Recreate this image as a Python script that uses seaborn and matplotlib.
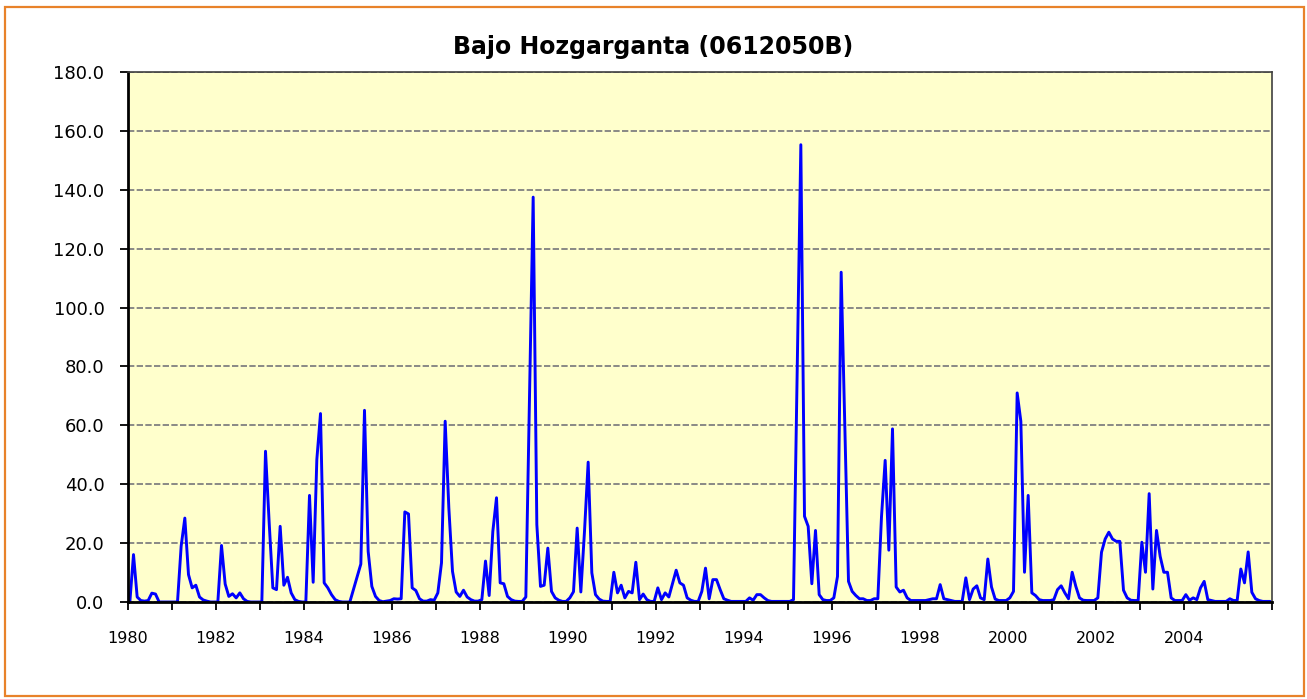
import numpy as np
import pandas as pd
import matplotlib
matplotlib.use('Agg')
import matplotlib.pyplot as plt
from matplotlib.patches import Rectangle
from matplotlib.ticker import MultipleLocator, FormatStrFormatter
import seaborn as sns

# Monthly series, one row per year (Jan..Dec), 1980-2005
start_year = 1980
flow_by_year = [
    [0, 16.1, 1.7, 0.5, 0.3, 0.5, 3.0, 2.7, 0, 0, 0, 0],                    # 1980
    [0, 0, 19.0, 28.5, 9.3, 4.8, 5.7, 1.7, 0.7, 0.3, 0, 0],                 # 1981
    [0, 19.2, 6.1, 1.9, 2.8, 1.4, 3.1, 1.1, 0.2, 0, 0, 0],                  # 1982
    [0, 51.2, 27.0, 4.8, 4.2, 25.7, 5.7, 8.4, 3.1, 0.8, 0.2, 0],            # 1983
    [0, 36.2, 6.7, 48.4, 64.0, 6.5, 4.8, 2.5, 0.8, 0.2, 0, 0],              # 1984
    [0, 4.3, 8.6, 12.9, 65.1, 17.2, 5.3, 1.9, 0.5, 0.1, 0.3, 0.5],          # 1985
    [1.1, 1.0, 1.1, 30.6, 29.9, 4.8, 3.9, 1.1, 0.3, 0.3, 0.8, 0.6],         # 1986
    [3.1, 13.3, 61.4, 32.0, 10.4, 3.4, 1.9, 4.0, 1.7, 0.8, 0.3, 0.3],       # 1987
    [0.8, 13.9, 2.2, 24.0, 35.4, 6.5, 6.2, 1.9, 0.8, 0.3, 0.2, 0.2],        # 1988
    [1.7, 70.0, 137.5, 26.3, 5.3, 5.7, 18.3, 3.6, 1.4, 0.6, 0.2, 0.2],      # 1989
    [1.4, 3.5, 25.1, 3.4, 24.0, 47.5, 9.9, 2.5, 1.0, 0.3, 0.2, 0.2],        # 1990
    [10.1, 3.1, 5.7, 1.4, 3.6, 3.1, 13.5, 0.8, 2.7, 0.8, 0.2, 0.2],         # 1991
    [4.8, 0.8, 3.1, 1.7, 6.2, 10.8, 6.5, 5.7, 1.4, 0.6, 0.2, 0.2],          # 1992
    [3.6, 11.5, 1.1, 7.6, 7.6, 4.2, 1.1, 0.6, 0.2, 0.2, 0.2, 0.2],          # 1993
    [0.2, 1.4, 0.6, 2.5, 2.5, 1.4, 0.5, 0.2, 0.2, 0.2, 0.2, 0.2],           # 1994
    [0.2, 0.8, 78.0, 155.3, 29.1, 25.7, 6.2, 24.3, 2.5, 0.8, 0.5, 0.5],     # 1995
    [1.4, 8.7, 112.0, 60.0, 7.0, 3.6, 2.2, 1.1, 1.1, 0.5, 0.5, 1.1],        # 1996
    [1.1, 29.0, 48.1, 17.6, 58.8, 5.1, 3.4, 4.0, 1.4, 0.5, 0.5, 0.5],       # 1997
    [0.5, 0.5, 0.8, 1.1, 1.1, 5.9, 1.1, 0.8, 0.5, 0.2, 0.2, 0.2],           # 1998
    [8.2, 0.8, 4.4, 5.5, 1.4, 0.8, 14.6, 5.1, 1.0, 0.5, 0.5, 0.5],          # 1999
    [1.4, 3.6, 71.0, 61.4, 10.1, 36.2, 3.1, 2.2, 0.8, 0.5, 0.5, 0.5],       # 2000
    [0.8, 4.2, 5.5, 3.1, 1.1, 10.1, 5.3, 1.4, 0.6, 0.5, 0.5, 0.5],          # 2001
    [1.4, 16.9, 21.4, 23.7, 21.4, 20.6, 20.6, 4.0, 1.4, 0.6, 0.5, 0.5],     # 2002
    [20.3, 10.1, 36.8, 4.4, 24.3, 15.5, 10.1, 10.1, 1.4, 0.5, 0.5, 0.5],    # 2003
    [2.5, 0.6, 1.4, 0.8, 4.8, 7.0, 0.8, 0.5, 0.2, 0.2, 0.2, 0.2],           # 2004
    [1.1, 0.5, 0.5, 11.2, 6.5, 17.0, 3.3, 1.1, 0.5, 0.2, 0.2, 0.2],         # 2005
]
title = 'Bajo Hozgarganta (0612050B)'
x_range = (1980, 2006)
y_ticks = [0, 20, 40, 60, 80, 100, 120, 140, 160, 180]

flow = np.array(flow_by_year, dtype=float).ravel()
# each month plotted in the middle of its slot
t = start_year + (np.arange(len(flow)) + 0.5) / 12
df = pd.DataFrame({'year': t, 'flow': flow})

sns.set_style('white')
plt.rcParams['font.family'] = ['DejaVu Sans']
plt.rcParams['text.color'] = 'black'
plt.rcParams['xtick.color'] = 'black'
plt.rcParams['ytick.color'] = 'black'

fig = plt.figure(figsize=(13.07, 6.99), dpi=100)
ax = fig.add_axes([128 / 1307, 1 - 602 / 699, (1272 - 128) / 1307, (602 - 72) / 699])
ax.set_facecolor('#FFFFCC')

sns.lineplot(data=df, x='year', y='flow', color='#0000FF', linewidth=2.1, ax=ax)

ax.set_xlim(*x_range)
ax.set_ylim(0, 180)
ax.set_yticks(y_ticks)
ax.yaxis.set_major_formatter(FormatStrFormatter('%.1f'))
ax.xaxis.set_minor_locator(MultipleLocator(1))
xt = [v for v in range(x_range[0], x_range[1], 2)]
ax.set_xticks(xt)
ax.set_xticklabels([str(v) for v in xt])
ax.set_xlabel('')
ax.set_ylabel('')

ax.grid(axis='y', color='#808080', linestyle=(0, (3.5, 1.3)), linewidth=1.3)
ax.grid(axis='x', visible=False)
ax.set_axisbelow(True)

ax.tick_params(axis='x', which='both', direction='out', length=6, width=1.3,
               colors='black', labelsize=11.5, pad=15, bottom=True)
ax.tick_params(axis='y', direction='out', length=6, width=1.3, colors='black',
               labelsize=13, pad=11, left=True)

for side in ['left', 'bottom']:
    ax.spines[side].set_color('black')
    ax.spines[side].set_linewidth(2)
for side in ['top', 'right']:
    ax.spines[side].set_color('#404040')
    ax.spines[side].set_linewidth(1.2)

fig.text(0.5, 1 - 47 / 699, title, ha='center', va='center',
         fontsize=17, fontweight='bold', color='black')

fig.patches.append(Rectangle((5 / 1307, 3 / 699), 1299 / 1307, 689 / 699,
                             transform=fig.transFigure, fill=False,
                             edgecolor='#E8822A', linewidth=1.6))

fig.savefig('out.png', dpi=100)
